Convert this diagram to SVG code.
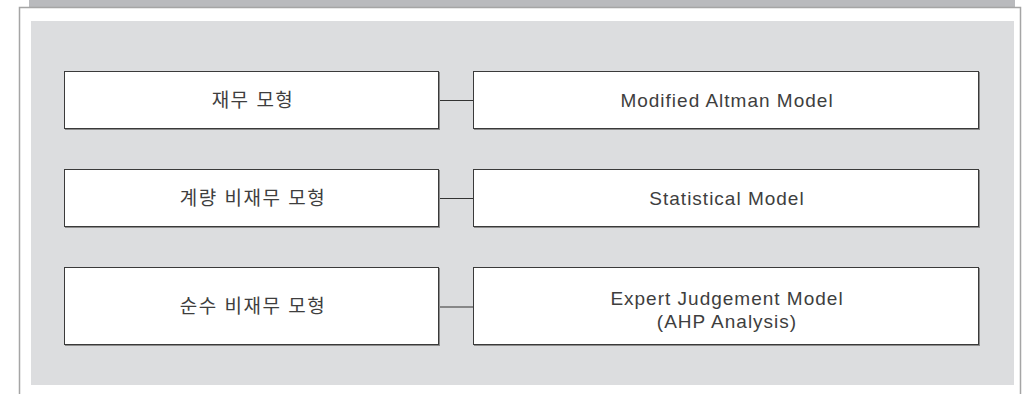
<svg xmlns="http://www.w3.org/2000/svg" width="1024" height="394" viewBox="0 0 1024 394">
  <style>
    .lbl { font-family: "Liberation Sans", "Noto Sans CJK KR", sans-serif; font-size: 19px; fill: #3e3e3e; text-anchor: middle; letter-spacing: 1px; }
    .ko { letter-spacing: 1.5px; }
    .box { fill: #ffffff; stroke: #3a3a3a; stroke-width: 1; }
    .shadow { fill: #8c8c8c; }
    .link { stroke: #333333; stroke-width: 1.2; fill: none; }
  </style>

  <!-- frame -->
  <rect x="29" y="0" width="986" height="7" fill="#b9babd"/>
  <rect x="19.5" y="7.5" width="1001" height="400" fill="#ffffff" stroke="#a5a5a5" stroke-width="1.5"/>
  <rect x="31" y="21" width="983" height="364" fill="#dcdddf"/>

  <!-- connectors -->
  <g id="connectors">
    <line class="link" x1="439" y1="100.5" x2="473" y2="100.5"/>
    <line class="link" x1="439" y1="198.5" x2="473" y2="198.5"/>
    <line class="link" x1="439" y1="307" x2="473" y2="307"/>
  </g>

  <!-- row 1 -->
  <g id="financial-model">
    <rect class="shadow" x="65" y="72" width="375" height="58"/>
    <rect class="box" x="64.5" y="71.5" width="374" height="57"/>
    <text class="lbl ko" x="253" y="107">재무 모형</text>
  </g>
  <g id="modified-altman">
    <rect class="shadow" x="474" y="72" width="506" height="58"/>
    <rect class="box" x="473.5" y="71.5" width="505" height="57"/>
    <text class="lbl" x="727" y="107">Modified Altman Model</text>
  </g>

  <!-- row 2 -->
  <g id="quant-nonfinancial-model">
    <rect class="shadow" x="65" y="170" width="375" height="58"/>
    <rect class="box" x="64.5" y="169.5" width="374" height="57"/>
    <text class="lbl ko" x="253" y="205">계량 비재무 모형</text>
  </g>
  <g id="statistical-model">
    <rect class="shadow" x="474" y="170" width="506" height="58"/>
    <rect class="box" x="473.5" y="169.5" width="505" height="57"/>
    <text class="lbl" x="727" y="205">Statistical Model</text>
  </g>

  <!-- row 3 -->
  <g id="pure-nonfinancial-model">
    <rect class="shadow" x="65" y="268" width="375" height="78"/>
    <rect class="box" x="64.5" y="267.5" width="374" height="77"/>
    <text class="lbl ko" x="253" y="313">순수 비재무 모형</text>
  </g>
  <g id="expert-judgement-model">
    <rect class="shadow" x="474" y="268" width="506" height="78"/>
    <rect class="box" x="473.5" y="267.5" width="505" height="77"/>
    <text class="lbl" x="727" y="305">Expert Judgement Model</text>
    <text class="lbl" x="727" y="328">(AHP Analysis)</text>
  </g>
</svg>
